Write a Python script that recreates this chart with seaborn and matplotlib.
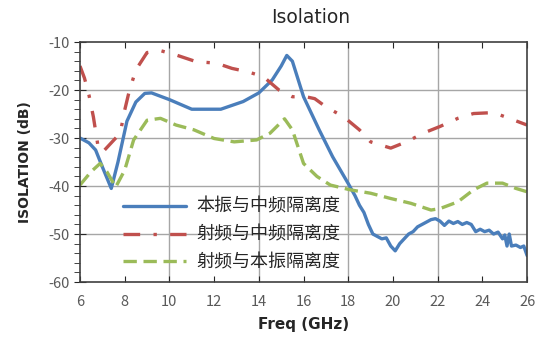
import numpy as np
import pandas as pd
import seaborn as sns
import matplotlib.pyplot as plt
from matplotlib.ticker import MultipleLocator

# LO-IF isolation (blue)
lo_if_freq = [6.0, 6.4, 6.7, 7.0, 7.4, 7.7, 8.1, 8.5, 8.9, 9.2, 10.0, 11.0, 12.3, 13.3, 14.0, 14.6,
              15.0, 15.25, 15.5, 16.0, 16.7, 17.3, 18.0, 18.3, 18.5, 18.7, 18.9, 19.1, 19.3, 19.5,
              19.7, 19.9, 20.1, 20.3, 20.5, 20.7, 20.9, 21.1, 21.3, 21.5, 21.7, 21.9, 22.1, 22.3,
              22.5, 22.7, 22.9, 23.1, 23.3, 23.5, 23.7, 23.9, 24.1, 24.3, 24.5, 24.7, 24.9, 25.0,
              25.1, 25.2, 25.3, 25.5, 25.7, 25.85, 26.0]
lo_if_db = [-30.0, -31.0, -32.5, -36.0, -40.5, -35.0, -26.5, -22.5, -20.7, -20.6, -22.0, -24.0,
            -24.0, -22.4, -20.6, -17.9, -15.0, -12.8, -14.0, -21.4, -28.3, -33.9, -39.5, -42.0,
            -44.0, -45.5, -48.0, -50.0, -50.5, -51.0, -50.8, -52.5, -53.5, -52.0, -51.0, -50.0,
            -49.5, -48.5, -48.0, -47.5, -47.0, -46.8, -47.3, -48.2, -47.3, -47.8, -47.4, -48.0,
            -47.6, -48.0, -49.5, -49.0, -49.5, -49.2, -50.0, -49.6, -51.0, -50.2, -52.5, -50.0,
            -52.5, -52.3, -52.8, -52.5, -54.5]

# RF-IF isolation (red)
rf_if_freq = [6.0, 6.2, 6.4, 6.6, 6.8, 7.0, 7.3, 7.8, 8.0, 8.2, 8.5, 9.0, 9.6, 10.3, 11.2, 12.1,
              12.8, 13.5, 14.2, 14.9, 15.5, 16.1, 16.5, 17.0, 17.8, 18.5, 19.0, 19.9, 20.6,
              21.4, 22.1, 22.9, 23.6, 24.5, 25.2, 26.0]
rf_if_db = [-15.0, -17.5, -21.0, -25.6, -31.5, -33.0, -31.5, -29.0, -24.2, -20.3, -15.8, -12.2,
            -11.8, -12.7, -14.1, -14.4, -15.5, -16.2, -17.2, -20.0, -21.4, -21.4, -21.8, -23.5,
            -25.6, -28.3, -30.8, -32.1, -30.8, -28.9, -27.6, -25.9, -24.9, -24.7, -25.9, -27.3]

# RF-LO isolation (green)
rf_lo_freq = [6.0, 6.5, 6.9, 7.2, 7.6, 8.0, 8.4, 9.0, 9.6, 10.3, 11.1, 12.0, 12.9, 13.9, 14.5,
              15.15, 15.5, 16.0, 16.6, 17.2, 18.1, 19.0, 19.9, 20.8, 21.7, 22.1, 22.9, 23.6,
              24.2, 24.9, 25.5, 26.0]
rf_lo_db = [-39.8, -37.0, -35.3, -37.0, -40.2, -36.7, -30.4, -26.3, -25.9, -27.3, -28.3, -30.1,
            -30.8, -30.4, -29.0, -26.0, -28.3, -35.3, -38.0, -39.8, -40.8, -41.5, -42.6, -43.6,
            -45.0, -44.7, -43.3, -40.8, -39.4, -39.4, -40.5, -41.2]

labels = ["本振与中频隔离度", "射频与中频隔离度", "射频与本振隔离度"]
colors = ["#4A7EBB", "#C0504D", "#9BBB59"]

sns.set_style("white")
plt.rcParams['font.family'] = ['Noto Sans CJK SC', 'DejaVu Sans']
plt.rcParams['axes.unicode_minus'] = False

fig = plt.figure(figsize=(5.44, 3.53), dpi=100)
ax = fig.add_axes([0.147, 0.201, 0.822, 0.68])

series = [(lo_if_freq, lo_if_db), (rf_if_freq, rf_if_db), (rf_lo_freq, rf_lo_db)]
for (f, d), lab, c in zip(series, labels, colors):
    df = pd.DataFrame({"freq": f, "db": d})
    sns.lineplot(data=df, x="freq", y="db", ax=ax, color=c, label=lab, lw=2.4)

lines = ax.get_lines()
lines[1].set_dashes([5, 4, 1, 4])
lines[2].set_dashes([4, 2])

ax.set_xlim(6, 26)
ax.set_ylim(-60, -10)
ax.set_xticks(np.arange(6, 27, 2))
ax.set_yticks(np.arange(-60, -9, 10))
ax.yaxis.set_minor_locator(MultipleLocator(2))
for gx in [10, 14, 18, 22]:
    ax.axvline(gx, color="#A6A6A6", lw=1, zorder=0)
for gy in [-20, -30, -40, -50]:
    ax.axhline(gy, color="#A6A6A6", lw=1, zorder=0)

ax.tick_params(axis="x", which="major", direction="in", length=4, top=True, bottom=True,
               labelsize=10.5, labelcolor="#595959", pad=9)
ax.tick_params(axis="y", which="major", direction="inout", length=8, left=True,
               labelsize=10.5, labelcolor="#595959")
ax.tick_params(axis="y", which="minor", direction="out", length=4, left=True)
for s in ax.spines.values():
    s.set_color("#404040")
    s.set_linewidth(1.2)

ax.set_xlabel("Freq (GHz)", fontsize=11, fontweight="bold", family=["DejaVu Sans"], labelpad=6)
ax.set_ylabel("ISOLATION (dB)", fontsize=10, fontweight="bold", family=["DejaVu Sans"], labelpad=12)
fig.text(0.572, 0.95, "Isolation", ha="center", va="center", fontsize=13.5, family=["DejaVu Sans"])

leg = ax.legend(loc="lower left", bbox_to_anchor=(0.06, -0.025), frameon=False, fontsize=13,
                handlelength=3.5, labelspacing=0.55, handletextpad=0.55)
for t in leg.get_texts():
    t.set_color("#262626")

fig.savefig("out.png", dpi=100)
